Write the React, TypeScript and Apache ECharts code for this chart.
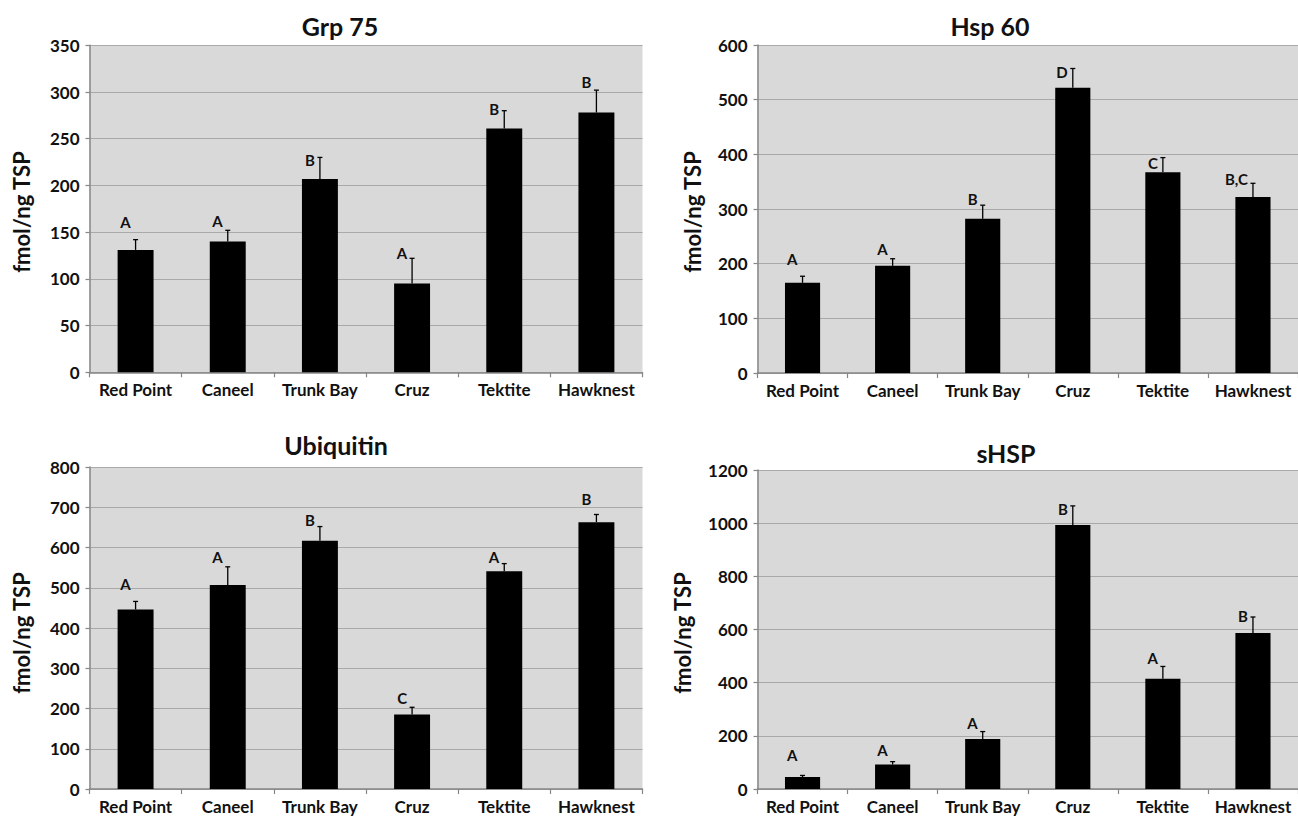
import React, { useEffect, useRef } from 'react';
import * as echarts from 'echarts';

const categories = ['Red Point', 'Caneel', 'Trunk Bay', 'Cruz', 'Tektite', 'Hawknest'];

const grp75Values = [131, 140, 207, 95, 261, 278];
const grp75Errors = [11, 12, 23, 27, 19, 24];
const grp75Letters = ['A', 'A', 'B', 'A', 'B', 'B'];
const grp75LetterHeights = [161, 162, 227, 128, 282, 311];

const hsp60Values = [165, 196, 282, 522, 367, 322];
const hsp60Errors = [12, 13, 25, 35, 27, 25];
const hsp60Letters = ['A', 'A', 'B', 'D', 'C', 'B,C'];
const hsp60LetterHeights = [208, 227, 319, 551, 384, 355];

const ubiquitinValues = [446, 507, 617, 185, 541, 663];
const ubiquitinErrors = [20, 45, 35, 18, 19, 19];
const ubiquitinLetters = ['A', 'A', 'B', 'C', 'A', 'B'];
const ubiquitinLetterHeights = [510, 576, 669, 227, 576, 720];

const shspValues = [45, 92, 188, 993, 415, 587];
const shspErrors = [6, 11, 28, 72, 46, 60];
const shspLetters = ['A', 'A', 'A', 'B', 'A', 'B'];
const shspLetterHeights = [128, 147, 247, 1055, 492, 652];

const yTicks = [
  { max: 350, interval: 50 },
  { max: 600, interval: 100 },
  { max: 800, interval: 100 },
  { max: 1200, interval: 200 },
];

const titles = ['Grp 75', 'Hsp 60', 'Ubiquitin', 'sHSP'];
const yName = 'fmol/ng TSP';

const FONT = 'Lato, "Open Sans", sans-serif';

const panels = [
  { values: grp75Values, errors: grp75Errors, letters: grp75Letters, lh: grp75LetterHeights },
  { values: hsp60Values, errors: hsp60Errors, letters: hsp60Letters, lh: hsp60LetterHeights },
  { values: ubiquitinValues, errors: ubiquitinErrors, letters: ubiquitinLetters, lh: ubiquitinLetterHeights },
  { values: shspValues, errors: shspErrors, letters: shspLetters, lh: shspLetterHeights },
];

const grids = [
  { left: 89.5, top: 45.3, width: 553, height: 327 },
  { left: 757.5, top: 45, width: 555, height: 328 },
  { left: 89.5, top: 467, width: 553, height: 322 },
  { left: 757.5, top: 470, width: 550, height: 319 },
];

const titlePos = [
  [340, 26],
  [990, 26],
  [336, 445],
  [1006, 453],
];

const yNamePos = [
  [21, 212],
  [692, 212],
  [21, 633],
  [682, 633],
];

export default function App() {
  const ref = useRef<HTMLDivElement>(null);

  useEffect(() => {
    if (!ref.current) return;
    const chart = echarts.init(ref.current, null, { renderer: 'svg' });

    const xAxis = grids.map((_, i) => ({
      type: 'category',
      gridIndex: i,
      data: categories,
      axisLine: { show: true, lineStyle: { color: '#868686', width: 1.5 } },
      axisTick: { show: true, length: 5, interval: 0, lineStyle: { color: '#868686', width: 1.2 } },
      axisLabel: {
        interval: 0,
        margin: 9,
        color: '#111',
        fontFamily: FONT,
        fontWeight: 'bold',
        fontSize: 17,
      },
    }));

    const yAxis = grids.map((_, i) => ({
      type: 'value',
      gridIndex: i,
      min: 0,
      max: yTicks[i].max,
      interval: yTicks[i].interval,
      axisLine: { show: true, lineStyle: { color: '#868686', width: 1.5 } },
      axisTick: { show: true, length: 4, lineStyle: { color: '#868686', width: 1.2 } },
      splitLine: { show: true, lineStyle: { color: '#a9a9a9', width: 1.2 } },
      axisLabel: {
        margin: 10,
        color: '#111',
        fontFamily: FONT,
        fontWeight: 'bold',
        fontSize: 17,
        formatter: (v: number) => String(v),
      },
    }));

    const series: any[] = [];
    panels.forEach((p, i) => {
      series.push({
        type: 'bar',
        xAxisIndex: i,
        yAxisIndex: i,
        data: p.values,
        barWidth: '39%',
        itemStyle: { color: '#000' },
        z: 2,
      });
      series.push({
        type: 'custom',
        xAxisIndex: i,
        yAxisIndex: i,
        z: 3,
        data: p.values.map((v, k) => [k, v, p.errors[k], p.lh[k]]),
        renderItem: (params: any, api: any) => {
          const x = api.value(0);
          const v = api.value(1);
          const e = api.value(2);
          const h = api.value(3);
          const p0 = api.coord([x, v]);
          const p1 = api.coord([x, v + e]);
          const pl = api.coord([x, h]);
          return {
            type: 'group',
            children: [
              {
                type: 'line',
                shape: { x1: p0[0], y1: p0[1], x2: p1[0], y2: p1[1] },
                style: { stroke: '#000', lineWidth: 1.3 },
              },
              {
                type: 'line',
                shape: { x1: p1[0] - 2.5, y1: p1[1], x2: p1[0] + 2.5, y2: p1[1] },
                style: { stroke: '#000', lineWidth: 1.3 },
              },
              {
                type: 'text',
                x: pl[0] - 5,
                y: pl[1],
                style: {
                  text: p.letters[params.dataIndex],
                  align: 'right',
                  verticalAlign: 'middle',
                  fontFamily: FONT,
                  fontWeight: 'bold',
                  fontSize: 15,
                  fill: '#111',
                },
              },
            ],
          };
        },
      });
    });

    const graphic: any[] = [];
    titles.forEach((t, i) => {
      graphic.push({
        type: 'text',
        x: titlePos[i][0],
        y: titlePos[i][1],
        style: {
          text: t,
          align: 'center',
          verticalAlign: 'middle',
          fontFamily: FONT,
          fontWeight: 'bold',
          fontSize: 25,
          fill: '#111',
        },
      });
      graphic.push({
        type: 'text',
        x: yNamePos[i][0],
        y: yNamePos[i][1],
        rotation: Math.PI / 2,
        style: {
          text: yName,
          align: 'center',
          verticalAlign: 'middle',
          fontFamily: FONT,
          fontWeight: 'bold',
          fontSize: 22,
          fill: '#111',
        },
      });
    });

    chart.setOption({
      animation: false,
      backgroundColor: '#fff',
      grid: grids.map((g) => ({
        ...g,
        show: true,
        backgroundColor: '#d9d9d9',
        borderWidth: 0,
        containLabel: false,
      })),
      xAxis,
      yAxis,
      series,
      graphic,
    });

    return () => {
      chart.dispose();
    };
  }, []);

  return (
    <div
      ref={ref}
      style={{ position: 'absolute', left: 0, top: 0, width: 1298, height: 816 }}
    />
  );
}
